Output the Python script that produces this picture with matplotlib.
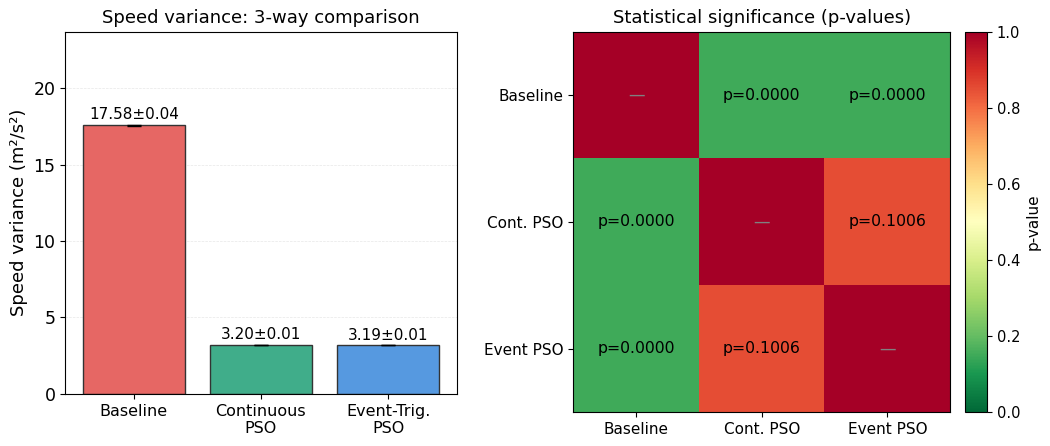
import numpy as np
import matplotlib
matplotlib.use('Agg')
import matplotlib.pyplot as plt

# bar chart data
methods = ['Baseline', 'Continuous\nPSO', 'Event-Trig.\nPSO']
variance_mean = [17.58, 3.20, 3.19]
variance_std = [0.04, 0.01, 0.01]
bar_colors = ['#e66764', '#40ad8a', '#5699e0']

# p-value matrix (None on the diagonal)
short_names = ['Baseline', 'Cont. PSO', 'Event PSO']
p_values = [[None, 0.0000, 0.0000],
            [0.0000, None, 0.1006],
            [0.0000, 0.1006, None]]
# cell shade
shade = [[1.00, 0.15, 0.15],
         [0.15, 1.00, 0.85],
         [0.15, 0.85, 1.00]]

fig = plt.figure(figsize=(10.5, 4.46), dpi=100)
ax1 = fig.add_axes([0.062, 0.117, 0.373, 0.812])
ax2 = fig.add_axes([0.546, 0.076, 0.359, 0.853])
cax = fig.add_axes([0.919, 0.076, 0.021, 0.853])

x = np.arange(len(methods))
ax1.bar(x, variance_mean, yerr=variance_std, color=bar_colors, width=0.8,
        edgecolor='#333333', linewidth=1.0, capsize=5,
        error_kw={'elinewidth': 1.5, 'ecolor': 'black'})
for xi, m, s in zip(x, variance_mean, variance_std):
    ax1.text(xi, m + s + 0.15, f'{m:.2f}±{s:.2f}', ha='center', va='bottom',
             fontsize=11)
ax1.set_xticks(x)
ax1.set_xticklabels(methods, fontsize=11.5)
ax1.set_ylim(0, 23.7)
ax1.set_xlim(-0.54, 2.54)
ax1.tick_params(axis='y', labelsize=12.5)
ax1.set_ylabel('Speed variance (m²/s²)', fontsize=13)
ax1.set_title('Speed variance: 3-way comparison', fontsize=13)
ax1.grid(True, axis='y', alpha=0.3, linestyle='--', linewidth=0.5)
ax1.set_axisbelow(True)

im = ax2.imshow(np.array(shade), cmap='RdYlGn_r', vmin=0, vmax=1, aspect='auto')
for i in range(3):
    for j in range(3):
        p = p_values[i][j]
        if p is None:
            ax2.text(j, i, '—', ha='center', va='center', color='gray',
                     fontsize=12)
        else:
            ax2.text(j, i, f'p={p:.4f}', ha='center', va='center',
                     color='black', fontsize=11.3)
ax2.set_xticks(range(3))
ax2.set_xticklabels(short_names, fontsize=11)
ax2.set_yticks(range(3))
ax2.set_yticklabels(short_names, fontsize=11)
ax2.set_title('Statistical significance (p-values)', fontsize=13)

cbar = fig.colorbar(im, cax=cax)
cbar.set_label('p-value', fontsize=11)
cbar.ax.tick_params(labelsize=10.5)

fig.savefig('out.png', dpi=100)
